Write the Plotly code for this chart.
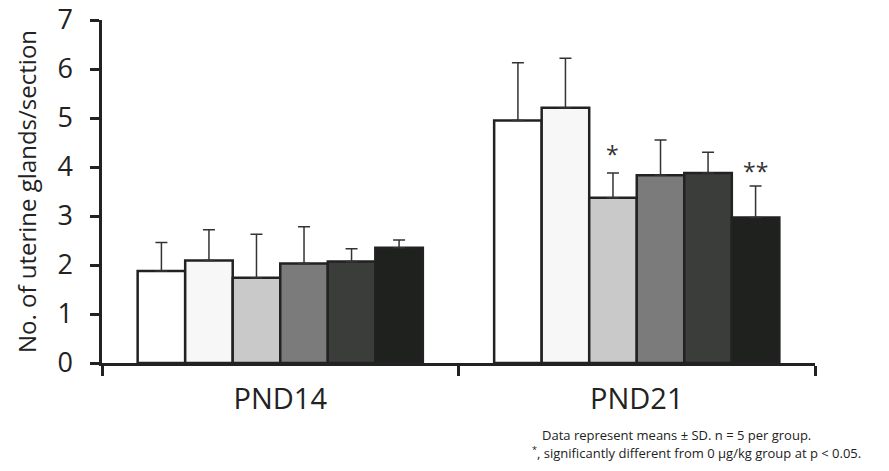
import plotly.graph_objects as go

categories = ["PND14", "PND21"]
group_names = ["Group 1", "Group 2", "Group 3", "Group 4", "Group 5", "Group 6"]
means = [
    [1.88, 4.95],
    [2.09, 5.21],
    [1.74, 3.37],
    [2.03, 3.83],
    [2.07, 3.88],
    [2.35, 2.97],
]
sds = [
    [0.58, 1.18],
    [0.63, 1.01],
    [0.89, 0.51],
    [0.75, 0.72],
    [0.26, 0.42],
    [0.16, 0.64],
]
colors = ["#ffffff", "#f7f7f7", "#c9c9c9", "#7b7b7b", "#3b3d3b", "#1f211f"]
sig_marks = {2: "*", 5: "**"}  # group index -> mark on PND21
footnotes = [
    "Data represent means ± SD. n = 5 per group.",
    "<sup>*</sup>, significantly different from 0 μg/kg group at p < 0.05.",
]

fig = go.Figure()
for i, name in enumerate(group_names):
    fig.add_trace(go.Bar(
        x=categories, y=means[i], name=name,
        marker=dict(color=colors[i], line=dict(color="#222222", width=2.5)),
        error_y=dict(type="data", array=sds[i], arrayminus=[0, 0], symmetric=False,
                     color="#333333", thickness=1.5, width=6),
        showlegend=False,
    ))

n = len(group_names)
w = 0.8 / n
shifts = {2: 1, 5: -3}
for gi, mark in sig_marks.items():
    xpos = 1 + (gi - (n - 1) / 2) * w
    fig.add_annotation(x=xpos, y=means[gi][1] + sds[gi][1], xref="x", yref="y",
                       text=mark, showarrow=False, yanchor="bottom", yshift=shifts[gi],
                       font=dict(size=23, color="#333333", family="Open Sans"))

fn_pos = [(0.614, -0.211), (0.600, -0.262)]
for (fx, fy), line in zip(fn_pos, footnotes):
    fig.add_annotation(xref="paper", yref="paper", x=fx, y=fy,
                       xanchor="left", yanchor="middle", align="left", showarrow=False,
                       text=line, font=dict(size=13, color="#222222", family="Open Sans"))

fig.update_layout(
    width=881, height=463,
    margin=dict(l=94, r=74, t=12, b=108),
    paper_bgcolor="white", plot_bgcolor="white",
    barmode="group", bargap=0.2, bargroupgap=0,
    font=dict(family="Open Sans", color="#222222"),
)
fig.update_yaxes(range=[0, 7], dtick=1, showgrid=False, zeroline=False, automargin=False,
                 showline=True, linecolor="#222222", linewidth=2.5,
                 ticks="outside", ticklen=9, tickwidth=2.5, tickcolor="#222222",
                 tickfont=dict(size=27, color="#222222"), ticklabelstandoff=12,
                 ticklabeloverflow="allow",
                 title=dict(text="No. of uterine glands/section", font=dict(size=24, color="#222222"), standoff=14))
fig.update_xaxes(showgrid=False, showline=True, linecolor="#222222", linewidth=2.5, automargin=False,
                 ticks="outside", tickson="boundaries", ticklen=10, tickwidth=2.5, tickcolor="#222222",
                 tickfont=dict(size=29, color="#222222"), ticklabelstandoff=8)

fig.write_html("out.html")
